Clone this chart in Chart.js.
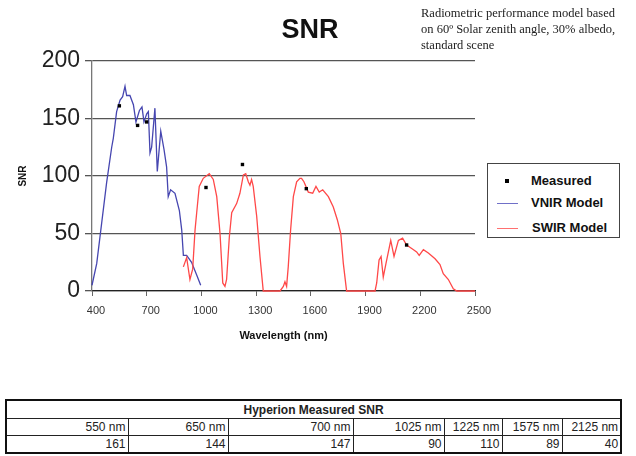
<!DOCTYPE html>
<html>
<head>
<meta charset="utf-8">
<script src="https://cdn.jsdelivr.net/npm/chart.js@4.4.1/dist/chart.umd.min.js"></script>
<style>
  body { margin: 0; background: #fff; width: 636px; height: 456px; position: relative; overflow: hidden;
         font-family: Arial, "Liberation Sans", sans-serif; }
  #wrap { position: absolute; left: 0; top: 0; width: 636px; height: 360px; }
  #title { position: absolute; left: 250px; width: 120px; top: 14px; text-align: center;
           font-weight: bold; font-size: 27px; color: #111; }
  #note { position: absolute; left: 421px; top: 5px; font-family: "Liberation Serif", "Times New Roman", serif;
          font-size: 12.5px; line-height: 16px; color: #222; white-space: nowrap; }
  #legend { position: absolute; left: 487px; top: 163px; width: 133px; height: 75px; box-sizing: border-box;
            border: 1px solid #444; background: #fff; font-weight: bold; font-size: 13px; color: #111; }
  #legend .item { position: absolute; left: 0; height: 16px; line-height: 16px; }
  #legend .txt { position: absolute; left: 43px; white-space: nowrap; }
  #legend .sq { position: absolute; left: 17px; top: 6px; width: 4px; height: 4px; background: #000; }
  #legend .ln { position: absolute; left: 9px; top: 8px; width: 21px; height: 1px; }
  #tbl { position: absolute; left: 5px; top: 399px; width: 615px; border-collapse: collapse;
         table-layout: fixed; border: 2px solid #111; font-size: 12px; color: #222; }
  #tbl th { font-weight: bold; text-align: center; height: 17px; padding: 0; border-bottom: 1.5px solid #222; }
  #tbl td { text-align: right; height: 16px; padding: 0 2px; border: 1.5px solid #222; line-height: 15px; }
</style>
</head>
<body>
<div id="wrap"><canvas id="snrChart" width="636" height="360"></canvas></div>
<div id="title">SNR</div>
<div id="note">Radiometric performance model based<br>on 60º Solar zenith angle, 30% albedo,<br>standard scene</div>
<div id="legend">
  <div class="item" style="top:9px;width:100%"><span class="sq"></span><span class="txt">Measured</span></div>
  <div class="item" style="top:31px;width:100%"><span class="ln" style="background:#7070c8"></span><span class="txt">VNIR Model</span></div>
  <div class="item" style="top:56px;width:100%"><span class="ln" style="background:#ff7070"></span><span class="txt" style="left:44px">SWIR Model</span></div>
</div>
<table id="tbl">
  <colgroup>
    <col style="width:122px"><col style="width:100px"><col style="width:125px"><col style="width:91px">
    <col style="width:58px"><col style="width:60px"><col style="width:59px">
  </colgroup>
  <tr><th colspan="7">Hyperion Measured SNR</th></tr>
  <tr id="rowWl"></tr>
  <tr id="rowSnr"></tr>
</table>

<script>
// measured points (also the table)
const measuredWavelength = [550, 650, 700, 1025, 1225, 1575, 2125]
const measuredSnr = [161, 144, 147, 90, 110, 89, 40]

// VNIR model curve
const vnirWavelength = [400, 426, 453, 480, 508, 517, 535, 554, 568, 581, 590, 608, 627, 641, 660, 674, 685, 700,
  709, 718, 727, 745, 758, 777, 795, 809, 818, 831, 855, 879, 892, 901, 919, 946, 974, 996]
const vnirSnr = [5, 24, 59, 94, 125, 133, 156, 166, 169, 178, 170, 170, 162, 147, 157, 160, 147, 154,
  156, 120, 125, 159, 104, 139, 123, 108, 82, 88, 85, 70, 53, 31, 31, 25, 14, 5]

// SWIR model curve
const swirWavelength = [901, 919, 937, 952, 965, 974, 988, 1010, 1043, 1065, 1084, 1102, 1117, 1129, 1138, 1153,
  1166, 1193, 1211, 1230, 1243, 1257, 1266, 1275, 1284, 1303, 1321, 1339, 1431, 1449, 1458, 1467, 1476, 1489,
  1504, 1522, 1540, 1549, 1562, 1586, 1610, 1628, 1646, 1665, 1696, 1723, 1745, 1764, 1778, 1796, 1952, 1961,
  1974, 1985, 1997, 2012, 2038, 2056, 2080, 2103, 2125, 2153, 2180, 2194, 2217, 2244, 2281, 2308, 2326, 2354,
  2381, 2400, 2500]
const swirSnr = [21, 29, 10, 19, 53, 68, 91, 98, 102, 97, 82, 50, 7, 4, 10, 47,
  68, 76, 85, 101, 102, 95, 92, 97, 91, 65, 30, 0, 0, 4, 8, 4, 21, 53,
  82, 95, 98, 98, 95, 86, 85, 91, 86, 88, 82, 73, 62, 50, 24, 0, 0, 7,
  27, 30, 12, 24, 44, 30, 44, 46, 40, 37, 34, 31, 36, 33, 28, 23, 15, 10,
  2, 0, 0]

const toPoints = (xs, ys) => xs.map((x, i) => ({ x, y: ys[i] }))

// table rows
document.getElementById("rowWl").innerHTML = measuredWavelength.map(w => `<td>${w} nm</td>`).join("")
document.getElementById("rowSnr").innerHTML = measuredSnr.map(v => `<td>${v}</td>`).join("")

new Chart(document.getElementById("snrChart"), {
  type: "line",
  data: {
    datasets: [
      {
        label: "Measured",
        type: "scatter",
        data: toPoints(measuredWavelength, measuredSnr),
        pointStyle: "rect",
        pointRadius: 2.4,
        backgroundColor: "#000",
        borderColor: "#000",
        borderWidth: 0,
        order: 0
      },
      {
        label: "VNIR Model",
        data: toPoints(vnirWavelength, vnirSnr),
        borderColor: "#4646b0",
        borderWidth: 1.3,
        pointRadius: 0,
        tension: 0,
        clip: false,
        order: 2
      },
      {
        label: "SWIR Model",
        data: toPoints(swirWavelength, swirSnr),
        borderColor: "#ff4848",
        borderWidth: 1.3,
        pointRadius: 0,
        tension: 0,
        clip: false,
        order: 1
      }
    ]
  },
  options: {
    responsive: false,
    animation: false,
    layout: { padding: { top: 61, right: 161, bottom: 0, left: 0 } },
    plugins: {
      legend: { display: false },
      tooltip: { enabled: false }
    },
    scales: {
      x: {
        type: "linear",
        min: 400,
        max: 2500,
        ticks: {
          stepSize: 300, font: { size: 11, family: "Arial, Liberation Sans" }, color: "#333", padding: 8, labelOffset: 4,
          callback: v => String(v)
        },
        grid: { drawOnChartArea: false, tickLength: 5, color: "#666" },
        border: { color: "#222", width: 1.3 },
        title: {
          display: true, text: "Wavelength (nm)", color: "#111",
          font: { size: 11, weight: "bold", family: "Arial, Liberation Sans" },
          padding: { top: 0, bottom: 17 }
        },
        afterFit(scale) { scale.height = 69 }
      },
      y: {
        min: 0,
        max: 200,
        ticks: { stepSize: 50, font: { size: 23, family: "Arial, Liberation Sans" }, color: "#222", padding: 5 },
        grid: { color: "#555", lineWidth: 1.3, tickLength: 7 },
        border: { color: "#777", width: 1.3 },
        title: {
          display: true, text: "SNR", color: "#111",
          font: { size: 10, weight: "bold", family: "Arial, Liberation Sans" },
          padding: { top: 17, bottom: 0 }
        },
        afterFit(scale) { scale.width = 92 }
      }
    }
  }
})
</script>
</body>
</html>
